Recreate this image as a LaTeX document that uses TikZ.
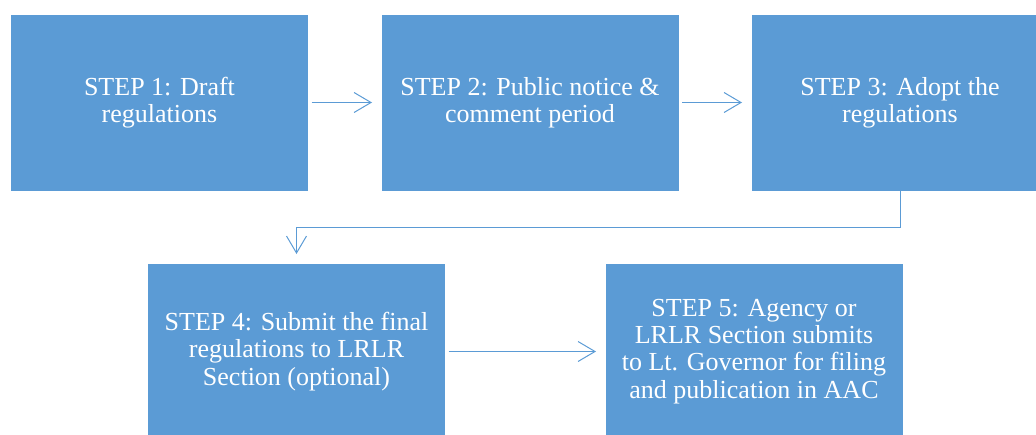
\documentclass[tikz,border=0pt]{standalone}
\usepackage{fontspec}
\setmainfont{Liberation Serif}
\newfontfamily\boxfont{Liberation Serif}
\usetikzlibrary{arrows.meta}
\definecolor{stepblue}{HTML}{5B9BD5}
\tikzset{
  stepbox/.style={fill=stepblue, draw=white, line width=0.8pt, text=white,
    minimum width=298pt, minimum height=177pt, inner sep=0pt, outer sep=0pt,
    align=center, font=\boxfont\fontsize{26}{27.2}\selectfont},
  flow/.style={draw=stepblue, line width=1pt,
    -{Straight Barb[length=17pt,width=20pt,line width=1pt]},
    shorten <=3pt, shorten >=9pt}
}
\begin{document}
\begin{tikzpicture}[x=1pt,y=-1pt]
\useasboundingbox (0,0) rectangle (1036,434);
\clip (0,0) rectangle (1036,434);
\node[stepbox] (s1) at (159.5,102.5) {STEP 1: Draft\\regulations};
\node[stepbox] (s2) at (530,102.5) {STEP 2: Public notice \&\\comment period};
\node[stepbox] (s3) at (900,102.5) {STEP 3: Adopt the\\regulations};
\node[stepbox] (s4) at (296.5,351.5) {STEP 4: Submit the final\\regulations to LRLR\\Section (optional)};
\node[stepbox] (s5) at (754,351.5) {STEP 5: Agency or\\LRLR Section submits\\to Lt. Governor for filing\\and publication in AAC};
\coordinate (turnR) at (s3.south |- 0,227);
\coordinate (turnL) at (s4.north |- 0,227);
\draw[flow] (s1) -- (s2);
\draw[flow] (s2) -- (s3);
\draw[flow, shorten <=0pt] (s3.south) -- (turnR) -- (turnL) -- (s4.north);
\draw[flow] (s4) -- (s5);
\end{tikzpicture}
\end{document}
